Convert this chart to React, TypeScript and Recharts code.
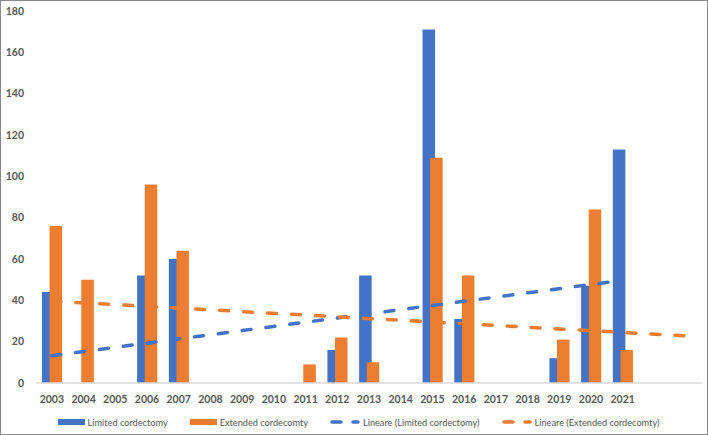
import { ComposedChart, Bar, Line, XAxis, YAxis } from "recharts";

const years = [
  "2003", "2004", "2005", "2006", "2007", "2008", "2009", "2010", "2011", "2012",
  "2013", "2014", "2015", "2016", "2017", "2018", "2019", "2020", "2021",
];
// two unlabeled periods the Extended trendline is projected into
const forecastSlots = ["", ""];

const limited = [44, null, null, 52, 60, null, null, null, null, 16, 52, null, 171, 31, null, null, 12, 47, 113];
const extended = [76, 50, null, 96, 64, null, null, null, 9, 22, 10, null, 109, 52, null, null, 21, 84, 16];

// linear trendlines, only the end points
const limitedTrend = [13.2, null, null, null, null, null, null, null, null, null, null, null, null, null, null, null, null, null, 49.7];
const extendedTrend = [39.6, null, null, null, null, null, null, null, null, null, null, null, null, null, null, null, null, null, null, null, 22.8];

const yTicks = [0, 20, 40, 60, 80, 100, 120, 140, 160, 180];

const BLUE = "#4472C4";
const ORANGE = "#ED7D31";
const TEXT = "#595959";
const FONT = "Lato, 'Open Sans', sans-serif";

const categories = [...years, ...forecastSlots];
const data = categories.map((year, i) => ({
  year,
  limited: limited[i] ?? null,
  extended: extended[i] ?? null,
  limitedTrend: limitedTrend[i] ?? null,
  extendedTrend: extendedTrend[i] ?? null,
}));

const legendItems = [
  { label: "Limited cordectomy", color: BLUE, kind: "bar" },
  { label: "Extended cordecomty", color: ORANGE, kind: "bar" },
  { label: "Lineare (Limited cordectomy)", color: BLUE, kind: "line" },
  { label: "Lineare (Extended cordecomty)", color: ORANGE, kind: "line" },
];

function LegendRow() {
  return (
    <div
      style={{
        position: "absolute",
        left: 0,
        top: 415,
        width: 717,
        height: 14,
        display: "flex",
        justifyContent: "center",
        alignItems: "center",
        gap: 22,
        fontFamily: FONT,
        fontSize: 9.2,
        color: TEXT,
      }}
    >
      {legendItems.map((it) => (
        <div key={it.label} style={{ display: "flex", alignItems: "center", gap: 3 }}>
          {it.kind === "bar" ? (
            <div style={{ width: 27, height: 5.5, background: it.color }} />
          ) : (
            <svg width={30} height={6}>
              <line
                x1={2}
                y1={3}
                x2={28}
                y2={3}
                stroke={it.color}
                strokeWidth={3.5}
                strokeLinecap="round"
                strokeDasharray="9 12"
              />
            </svg>
          )}
          <span style={{ whiteSpace: "nowrap" }}>{it.label}</span>
        </div>
      ))}
    </div>
  );
}

export default function App() {
  const tick = { fill: TEXT, fontSize: 10.5, fontWeight: 700, fontFamily: FONT };
  return (
    <div style={{ position: "absolute", left: 0, top: 0, width: 708, height: 435, background: "#fff" }}>
      <ComposedChart
        width={708}
        height={435}
        data={data}
        margin={{ top: 11, right: 6, bottom: 0, left: 0 }}
        barSize={12.5}
        barGap={-4.9}
      >
        <XAxis
          dataKey="year"
          height={52}
          interval={0}
          tickLine={false}
          tickSize={6}
          tickMargin={7}
          axisLine={{ stroke: "#d9d9d9", strokeWidth: 1.5 }}
          tick={tick}
        />
        <YAxis
          width={36}
          domain={[0, 180]}
          ticks={yTicks}
          axisLine={false}
          tickLine={false}
          tickSize={6}
          tickMargin={6}
          tick={tick}
        />
        <Bar dataKey="limited" fill={BLUE} isAnimationActive={false} />
        <Bar dataKey="extended" fill={ORANGE} isAnimationActive={false} />
        <Line
          dataKey="limitedTrend"
          stroke={BLUE}
          strokeWidth={3.5}
          strokeLinecap="round"
          strokeDasharray="9 15"
          dot={false}
          activeDot={false}
          connectNulls
          isAnimationActive={false}
        />
        <Line
          dataKey="extendedTrend"
          stroke={ORANGE}
          strokeWidth={3.5}
          strokeLinecap="round"
          strokeDasharray="9 15"
          dot={false}
          activeDot={false}
          connectNulls
          isAnimationActive={false}
        />
      </ComposedChart>
      <LegendRow />
      <div
        style={{
          position: "absolute",
          left: 0,
          top: 0,
          width: 708,
          height: 435,
          boxSizing: "border-box",
          border: "1px solid #8a8a8a",
          pointerEvents: "none",
        }}
      />
    </div>
  );
}
